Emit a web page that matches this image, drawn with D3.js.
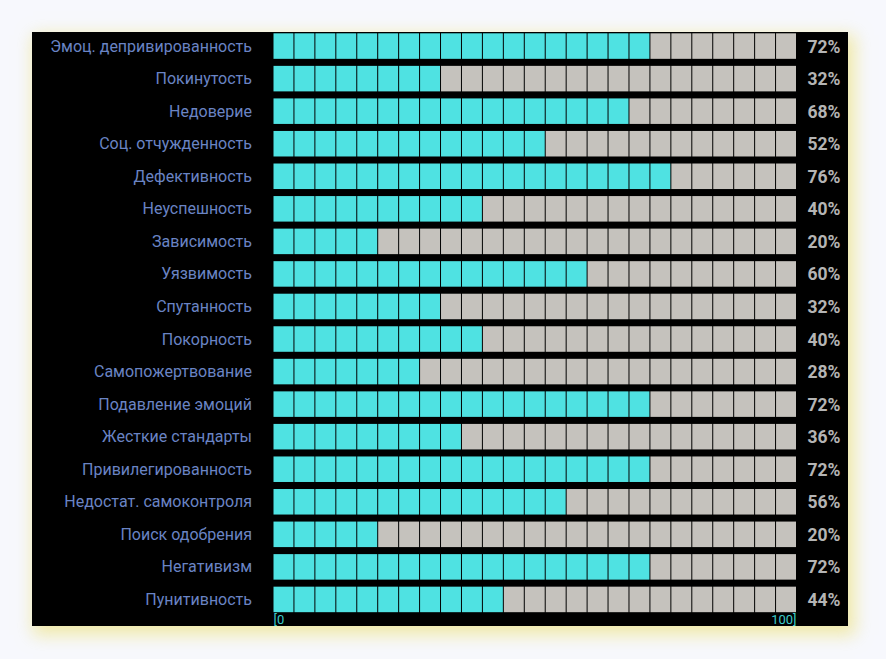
<!DOCTYPE html>
<html>
<head>
<meta charset="utf-8">
<script src="https://cdn.jsdelivr.net/npm/d3@7"></script>
<style>
  html, body { margin:0; padding:0; background:#f7f8fd; width:886px; height:659px; overflow:hidden; }
  #panel { position:absolute; left:32px; top:32px; width:816px; height:594px; background:#000;
           box-shadow: 4px 6px 16px 3px rgba(238,228,140,0.75); }
  svg { position:absolute; left:0; top:0; }
  text { font-family: Roboto, "Noto Sans", sans-serif; }
</style>
</head>
<body>
<div id="panel"></div>
<script>
const categories = [
  "Эмоц. депривированность","Покинутость","Недоверие","Соц. отчужденность","Дефективность",
  "Неуспешность","Зависимость","Уязвимость","Спутанность","Покорность","Самопожертвование",
  "Подавление эмоций","Жесткие стандарты","Привилегированность","Недостат. самоконтроля",
  "Поиск одобрения","Негативизм","Пунитивность"
];
const values = [72,32,68,52,76,40,20,60,32,40,28,72,36,72,56,20,72,44];
const cellStep = 4;           // each cell = 4%
const axisLabels = ["[0", "100]"];

const W = 886, H = 659;
const svg = d3.select("body").append("svg").attr("width", W).attr("height", H);

const step = 32.55;
const y = d3.scaleBand().domain(categories)
  .range([29.8, 29.8 + categories.length * step])
  .paddingInner(0.216).paddingOuter(0.108);
const x = d3.scaleLinear().domain([0, 100]).range([273, 796.5]);

const cells = d3.range(0, 100, cellStep);

const rows = svg.selectAll("g.row").data(categories.map((c, i) => ({c, v: values[i]})))
  .enter().append("g").attr("class", "row")
  .attr("transform", d => `translate(0,${y(d.c)})`);

rows.selectAll("rect").data(d => cells.map(k => ({k, on: k < d.v})))
  .enter().append("rect")
  .attr("x", d => x(d.k) + 0.5)
  .attr("width", d => x(d.k + cellStep) - x(d.k) - 1)
  .attr("y", 0)
  .attr("height", y.bandwidth())
  .attr("fill", d => d.on ? "#4fe2e2" : "#c5c2bd");

rows.append("text")
  .attr("x", 252).attr("y", y.bandwidth() / 2 + 5.5)
  .attr("text-anchor", "end")
  .attr("font-size", 16)
  .attr("fill", "#6a84c4")
  .text(d => d.c);

rows.append("text")
  .attr("x", 807.5).attr("y", y.bandwidth() / 2 + 6.5)
  .attr("font-size", 17.5).attr("font-weight", "bold")
  .attr("fill", "#b4b4b4")
  .text(d => d.v + "%");

svg.append("text").attr("x", x(0) + 0.5).attr("y", 624)
  .attr("font-size", 13).attr("fill", "#3ccccc").text(axisLabels[0]);
svg.append("text").attr("x", x(100)).attr("y", 624).attr("text-anchor", "end")
  .attr("font-size", 13).attr("fill", "#3ccccc").text(axisLabels[1]);
</script>
</body>
</html>
